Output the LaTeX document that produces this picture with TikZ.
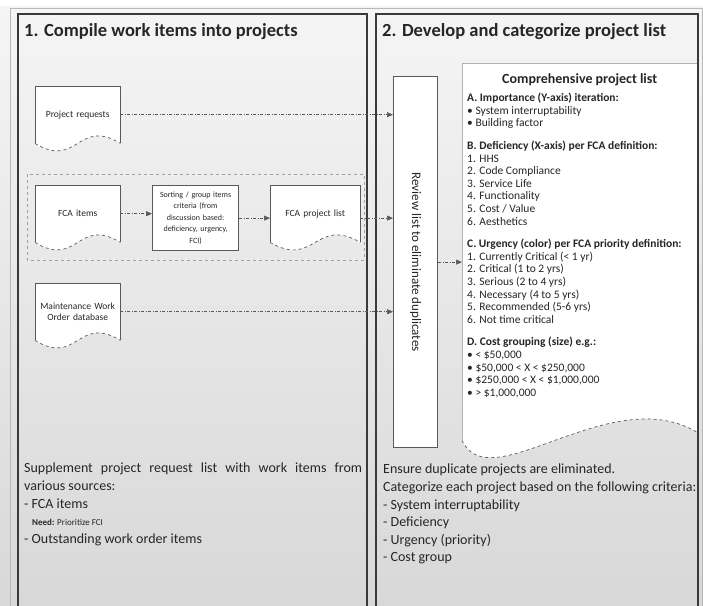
\documentclass[tikz,border=0pt]{standalone}
\usepackage{fontspec}
\setmainfont{Carlito}
\usepackage{xcolor}
\definecolor{PanelGrey}{HTML}{3A3A3A}
\definecolor{EdgeGrey}{HTML}{595959}
\definecolor{ShadeTop}{HTML}{F5F5F5}
\definecolor{ShadeBot}{HTML}{D8D8D8}
\definecolor{InkGrey}{HTML}{262626}
\usetikzlibrary{calc, positioning, arrows.meta}
\pgfdeclarelayer{backdrop}
\pgfdeclarelayer{paper}
\pgfsetlayers{backdrop,paper,main}

\tikzset{
  panel/.style={draw=PanelGrey, line width=1.8pt},
  paneltitle/.style={anchor=west, inner sep=0pt, text=InkGrey, font=\fontsize{18.5}{20}\selectfont\bfseries},
  docbox/.style={anchor=north west, minimum width=85pt, minimum height=57pt, inner sep=2pt,
    text width=80pt, align=center, text=InkGrey, font=\fontsize{9.5}{11}\selectfont},
  procbox/.style={anchor=north west, draw=EdgeGrey, fill=white, line width=1.2pt, minimum width=86pt,
    minimum height=65pt, inner sep=2pt, text width=80pt, align=center, text=InkGrey,
    font=\fontsize{8}{11.5}\selectfont},
  reviewbox/.style={anchor=north west, draw=EdgeGrey, fill=white, line width=1.2pt,
    minimum width=44pt, minimum height=371pt, inner sep=0pt, text=InkGrey, font=\fontsize{13}{15}\selectfont},
  listbox/.style={anchor=north west, minimum width=235pt, minimum height=377pt, inner sep=0pt},
  listhead/.style={inner sep=0pt, text=InkGrey, font=\fontsize{14}{16}\selectfont\bfseries},
  listbody/.style={anchor=north west, inner sep=0pt, align=left, text=InkGrey, font=\fontsize{11.5}{12.6}\selectfont},
  notebody/.style={anchor=north west, inner sep=0pt, align=left, text=InkGrey, font=\fontsize{14}{17.6}\selectfont},
  groupline/.style={draw=gray!75, dashed, line width=0.8pt},
  flow/.style={-{Triangle[length=6pt, width=5pt]}, EdgeGrey, line width=0.6pt,
    dash pattern=on 3pt off 1.5pt on 1pt off 1.5pt},
}

% document outline: straight top and sides, wavy foot (node name, wave depth)
\newcommand{\docshape}[2]{%
  \fill[white] (#1.south west) -- (#1.north west) -- (#1.north east) -- (#1.south east)
    .. controls ($(#1.south)+(0,-#2)$) and ($(#1.south)+(0,#2)$) .. (#1.south west) -- cycle;
  \draw[EdgeGrey, line width=0.9pt] (#1.south west) -- (#1.north west) -- (#1.north east) -- (#1.south east);
  \draw[EdgeGrey, line width=0.7pt, dashed] (#1.south west)
    .. controls ($(#1.south)+(0,#2)$) and ($(#1.south)+(0,-#2)$) .. (#1.south east);
}

\begin{document}
\begin{tikzpicture}[x=1pt, y=-1pt]
\useasboundingbox (0,0) rectangle (703,605);

    % 0. BACKDROP
    \begin{pgfonlayer}{backdrop}
        \fill[top color=ShadeTop, bottom color=ShadeBot] (0,6) rectangle (703,605);
        \draw[gray!55, line width=1pt] (10,8) rectangle (702,612);
    \end{pgfonlayer}

    % 1. THE TWO LANES
    \draw[panel] (18,14) rectangle (367,612);
    \draw[panel] (376,14) rectangle (698,612);
    \node[paneltitle] (compiletitle) at (24,32) {1. Compile work items into projects};
    \node[paneltitle] (developtitle) at (382,32) {2. Develop and categorize project list};

    % 2. SOURCES OF WORK ITEMS
    \node[docbox] (requests) at (35,86) {Project requests};
    \node[docbox] (fcaitems) at (35,185) {FCA items};
    \node[procbox] (rollup) at (152,185) {Sorting / group items\\criteria (from\\discussion based:\\deficiency, urgency,\\FCI)};
    \node[docbox, minimum width=90pt] (fcalist) at (270,185) {FCA project list};
    \node[docbox] (workorders) at (35,283) {Maintenance Work\\Order database};
    \draw[groupline] (27,174) rectangle (364,260);

    % 3. REVIEW AND THE COMPREHENSIVE LIST
    \node[reviewbox] (review) at (393,76) {\rotatebox{-90}{Review list to eliminate duplicates}};
    \node[listbox] (projlist) at (462,63) {};
    \node[listhead, below=10pt of projlist.north] (listtitle) {Comprehensive project list};
    \node[listbody] (criteria) at ($(projlist.north west)+(5,30)$) {%
        \textbf{A. Importance (Y-axis) iteration:}\\
        • System interruptability\\
        • Building factor\\[10pt]
        \textbf{B. Deficiency (X-axis) per FCA definition:}\\
        1. HHS\\
        2. Code Compliance\\
        3. Service Life\\
        4. Functionality\\
        5. Cost / Value\\
        6. Aesthetics\\[10pt]
        \textbf{C. Urgency (color) per FCA priority definition:}\\
        1. Currently Critical (< 1 yr)\\
        2. Critical (1 to 2 yrs)\\
        3. Serious (2 to 4 yrs)\\
        4. Necessary (4 to 5 yrs)\\
        5. Recommended (5-6 yrs)\\
        6. Not time critical\\[10pt]
        \textbf{D. Cost grouping (size) e.g.:}\\
        • < \$50,000\\
        • \$50,000 < X < \$250,000\\
        • \$250,000 < X < \$1,000,000\\
        • > \$1,000,000};

    \begin{pgfonlayer}{paper}
        \docshape{requests}{26}
        \docshape{fcaitems}{26}
        \docshape{fcalist}{26}
        \docshape{workorders}{26}
        % list sheet, its foot runs lower on the left
        \fill[white] (projlist.south west) -- (projlist.north west) -- (projlist.north east)
            -- ($(projlist.south east)+(0,-8)$)
            .. controls ($(projlist.south east)+(-87,-60)$) and ($(projlist.south west)+(28,60)$) .. (projlist.south west) -- cycle;
        \draw[gray!60, line width=0.6pt] (projlist.south west) -- (projlist.north west) -- (projlist.north east);
        \draw[EdgeGrey, line width=0.7pt, dashed] (projlist.south west)
            .. controls ($(projlist.south west)+(28,60)$) and ($(projlist.south east)+(-87,-60)$) .. ($(projlist.south east)+(0,-8)$);
    \end{pgfonlayer}

    % 4. FLOWS
    \draw[flow] (requests.east) -- (requests.east -| review.west);
    \draw[flow] (fcaitems.east) -- (fcaitems.east -| rollup.west);
    \draw[flow] (rollup.east) -- (rollup.east -| fcalist.west);
    \draw[flow] (fcalist.east |- rollup.east) -- (rollup.east -| review.west);
    \draw[flow] (workorders.east) -- (workorders.east -| review.west);
    \draw[flow] (review.east) -- (review.east -| projlist.west);

    % 5. NOTES UNDER EACH LANE
    \node[notebody] (compilenote) at (24,463) {%
        \makebox[338pt][s]{Supplement project request list with work items from}\\
        various sources:\\
        - FCA items\\
        \hspace{8pt}{\fontsize{9}{10}\selectfont\textbf{Need:} Prioritize FCI}\\
        - Outstanding work order items};
    \node[notebody] (developnote) at (383,464) {%
        Ensure duplicate projects are eliminated.\\
        Categorize each project based on the following criteria:\\
        - System interruptability\\
        - Deficiency\\
        - Urgency (priority)\\
        - Cost group};

\end{tikzpicture}
\end{document}
